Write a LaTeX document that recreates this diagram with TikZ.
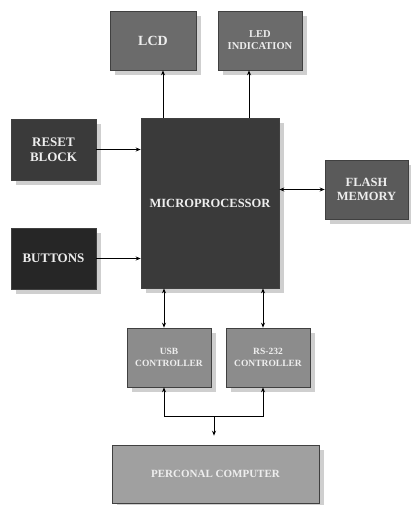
\documentclass[tikz,border=0pt]{standalone}
\usepackage{fontspec}
\setmainfont{Liberation Serif}
\usetikzlibrary{positioning,arrows.meta,shadows}
\definecolor{lcdC}{HTML}{6B6B6B}
\definecolor{mpuC}{HTML}{3A3A3A}
\definecolor{btnC}{HTML}{262626}
\definecolor{flashC}{HTML}{5A5A5A}
\definecolor{ctrlC}{HTML}{8C8C8C}
\definecolor{pcC}{HTML}{A0A0A0}
\definecolor{shadowC}{HTML}{CFCFCF}
\definecolor{txtC}{HTML}{EEEEEE}
\tikzset{
  blk/.style={draw=black!75, line width=0.6pt, align=center, inner sep=0pt,
              text=txtC, font=\bfseries, minimum width=85pt, minimum height=59pt,
              drop shadow={shadow xshift=5pt, shadow yshift=-5pt, fill=shadowC, opacity=1}},
  uses/.style={-{Stealth[length=5pt,width=4pt]}, line width=0.9pt},
  both/.style={{Stealth[length=5pt,width=4pt]}-{Stealth[length=5pt,width=4pt]}, line width=0.9pt},
}
\begin{document}
\begin{tikzpicture}[x=1pt,y=-1pt]
\useasboundingbox (0,0) rectangle (410,505);
% output blocks
\node[blk, fill=lcdC, minimum width=86pt, font=\bfseries\fontsize{14}{16}\selectfont] (lcd) at (153,40.5) {LCD};
\node[blk, fill=lcdC, minimum width=84pt, font=\bfseries\fontsize{10.5}{12}\selectfont] (led) at (260,40.5) {LED\\INDICATION};
% core
\node[blk, fill=mpuC, minimum width=138pt, minimum height=170pt, font=\bfseries\fontsize{12.5}{15}\selectfont] (mpu) at (210,203) {MICROPROCESSOR};
% inputs
\node[blk, fill=mpuC, minimum height=61pt, font=\bfseries\fontsize{13}{15}\selectfont] (reset) at (53.5,149.5) {RESET\\BLOCK};
\node[blk, fill=btnC, minimum height=61pt, font=\bfseries\fontsize{13}{15}\selectfont] (btn) at (53.5,258.5) {BUTTONS};
\node[blk, fill=flashC, minimum width=83pt, font=\bfseries\fontsize{12.5}{14}\selectfont] (flash) at (366.5,189.5) {FLASH\\MEMORY};
% interfaces
\node[blk, fill=ctrlC, minimum width=84pt, font=\bfseries\fontsize{9.5}{12}\selectfont] (usb) at (169,357.5) {USB\\CONTROLLER};
\node[blk, fill=ctrlC, minimum width=84pt, font=\bfseries\fontsize{9.5}{12}\selectfont] (rs) at (268,357.5) {RS-232\\CONTROLLER};
\node[blk, fill=pcC, minimum width=207pt, minimum height=58pt, font=\bfseries\fontsize{11}{13}\selectfont] (pc) at (215.5,474) {PERCONAL COMPUTER};
% connectors
\draw[uses] ([xshift=10pt]lcd.south |- mpu.north) -- ([xshift=10pt]lcd.south);
\draw[uses] ([xshift=-11pt]led.south |- mpu.north) -- ([xshift=-11pt]led.south);
\draw[uses] (reset.east) -- (reset.east -| mpu.west);
\draw[uses] (btn.east) -- (btn.east -| mpu.west);
\draw[both] (flash.west -| mpu.east) -- (flash.west);
\draw[both] ([xshift=-5pt]usb.north |- mpu.south) -- ([xshift=-5pt]usb.north);
\draw[both] ([xshift=-5pt]rs.north |- mpu.south) -- ([xshift=-5pt]rs.north);
\draw[both] ([xshift=-5pt]usb.south) -- ++(0,29) -| ([xshift=-5pt]rs.south);
\coordinate (jn) at (214,416);
\draw[uses] (jn) -- ([yshift=9pt]jn |- pc.north);
\end{tikzpicture}
\end{document}
